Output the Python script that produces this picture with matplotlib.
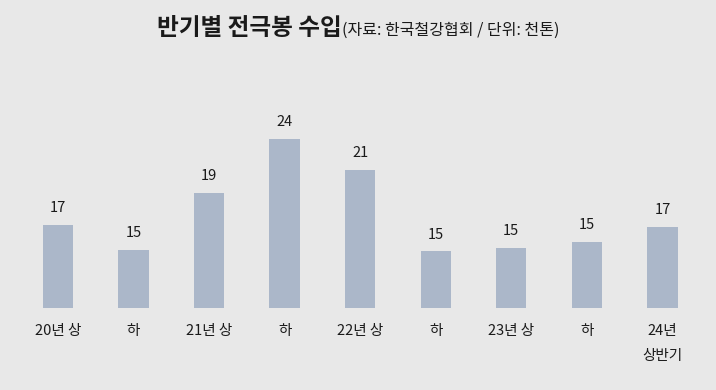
import matplotlib
matplotlib.use("Agg")
import matplotlib.pyplot as plt

plt.rcParams['font.family'] = ['Noto Sans CJK KR', 'DejaVu Sans']

# 반기별 전극봉 수입 (천톤)
periods = ["20년 상", "하", "21년 상", "하", "22년 상", "하", "23년 상", "하", "24년\n상반기"]
imports = [16.8, 14.7, 19.4, 23.8, 21.3, 14.6, 14.9, 15.4, 16.6]

bg = "#e8e8e8"
bar_color = "#abb7c9"
text_color = "#1a1a1a"

fig = plt.figure(figsize=(7.16, 3.9), dpi=100, facecolor=bg)
ax = fig.add_axes([0.028, 0.2115, 0.95, 0.532], facecolor=bg)

x = range(len(periods))
bars = ax.bar(x, imports, width=0.4, color=bar_color, bottom=0)
ax.set_ylim(10, 27)
ax.set_xlim(-0.5, len(periods) - 0.5)

for xi, v in zip(x, imports):
    ax.annotate(f"{v:.0f}", (xi, v), xytext=(0, 7), textcoords="offset points",
                ha="center", va="bottom", fontsize=10.5, color=text_color)

ax.set_xticks(list(x))
ax.set_xticklabels(periods, fontsize=10.5, color=text_color, linespacing=1.95)
ax.tick_params(axis="x", length=0, pad=12)
ax.set_yticks([])
for s in ax.spines.values():
    s.set_visible(False)

# title: bold main part + smaller source note, centred together
t1 = fig.text(0, 0.91, "반기별 전극봉 수입", fontsize=17, fontweight="bold",
              color=text_color, va="baseline")
t2 = fig.text(0, 0.91, "(자료: 한국철강협회 / 단위: 천톤)", fontsize=11.5,
              color=text_color, va="baseline")
fig.canvas.draw()
r = fig.canvas.get_renderer()
w1 = t1.get_window_extent(r).width
w2 = t2.get_window_extent(r).width
W = fig.bbox.width
start = 358 - (w1 + w2) / 2
t1.set_x(start / W)
t2.set_x((start + w1) / W)

fig.savefig("out.png", dpi=100, facecolor=bg)
